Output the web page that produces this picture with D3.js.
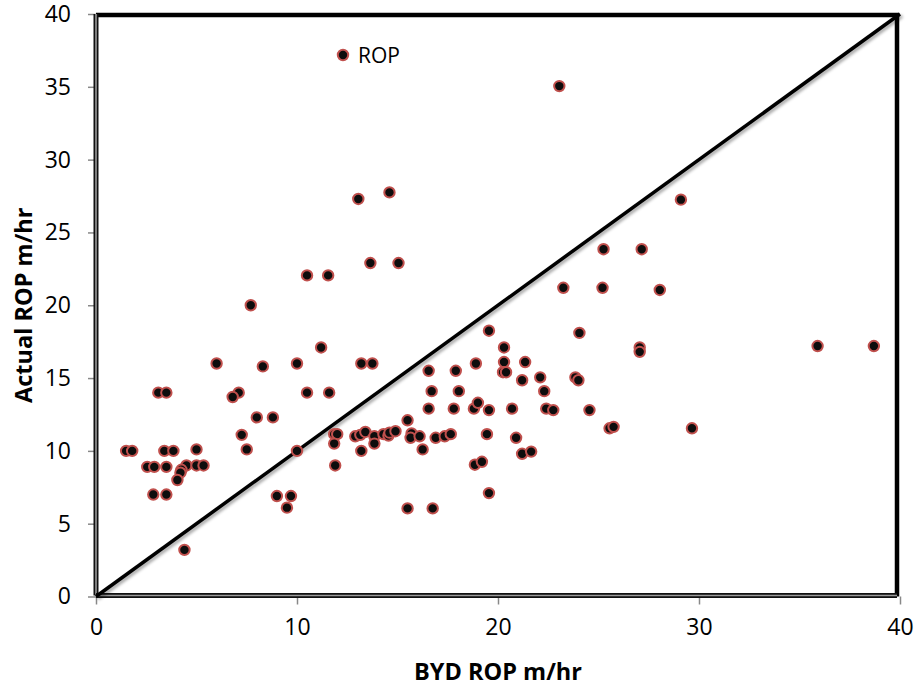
<!DOCTYPE html>
<html>
<head>
<meta charset="utf-8">
<script src="https://cdn.jsdelivr.net/npm/d3@7"></script>
<style>
  html, body { margin: 0; padding: 0; background: #fff; }
  svg { display: block; }
  text { font-family: "Open Sans", "Noto Sans", sans-serif; fill: #000; }
</style>
</head>
<body>
<svg id="chart" width="918" height="687"></svg>
<script>
// ---- data ----
const seriesName = "ROP";
const xTitle = "BYD ROP m/hr";
const yTitle = "Actual ROP m/hr";
const xTicks = [0, 10, 20, 30, 40];
const yTicks = [0, 5, 10, 15, 20, 25, 30, 35, 40];
const refLine = [0, 40];

const bydROP = [
  7.7, 6.0, 8.3, 10.0, 3.1, 3.5, 7.1, 6.8, 10.5, 8.0,
  8.8, 7.25, 7.5, 10.0, 1.5, 1.8, 3.4, 3.85, 5.0, 2.55,
  2.9, 3.5, 4.5, 4.25, 4.2, 4.05, 5.0, 5.35, 2.85, 3.5,
  4.4, 9.0, 9.7, 9.5,
  19.55, 11.2, 13.2, 13.75, 16.55, 17.9, 18.9, 11.6, 16.7, 18.05,
  16.55, 17.8, 18.8, 19.0, 19.55, 15.5, 11.85, 12.0, 11.85, 11.9,
  12.9, 13.15, 13.4, 13.85, 13.85, 13.2, 14.3, 14.55, 14.6, 14.9,
  15.7, 15.65, 16.1, 16.25, 16.9, 17.35, 17.65, 19.45, 18.85, 19.2,
  19.55, 15.5, 16.75,
  24.05, 27.05, 27.05, 20.3, 20.3, 21.35, 20.25, 20.4, 21.2, 22.1,
  23.85, 24.0, 22.3, 20.7, 22.4, 22.75, 24.55, 25.55, 25.75, 29.65,
  20.9, 21.2, 21.65,
  10.5, 11.55, 13.05, 14.6, 13.65, 15.05, 23.05, 29.1, 25.25, 27.15,
  23.25, 25.2, 28.05, 35.9, 38.7
];
const actualROP = [
  20.0, 16.0, 15.8, 16.0, 14.0, 14.0, 14.0, 13.7, 14.0, 12.3,
  12.3, 11.1, 10.1, 10.0, 10.0, 10.0, 10.0, 10.0, 10.1, 8.9,
  8.9, 8.9, 9.0, 8.7, 8.5, 8.0, 9.0, 9.0, 7.0, 7.0,
  3.2, 6.9, 6.9, 6.1,
  18.25, 17.1, 16.0, 16.0, 15.5, 15.5, 16.0, 14.0, 14.1, 14.1,
  12.9, 12.9, 12.9, 13.3, 12.8, 12.1, 11.15, 11.15, 10.5, 9.0,
  11.0, 11.1, 11.3, 11.0, 10.5, 10.0, 11.15, 11.05, 11.25, 11.35,
  11.2, 10.9, 11.0, 10.1, 10.9, 11.0, 11.15, 11.15, 9.05, 9.25,
  7.1, 6.05, 6.05,
  18.1, 17.1, 16.8, 17.1, 16.1, 16.1, 15.4, 15.4, 14.85, 15.05,
  15.05, 14.85, 14.1, 12.9, 12.9, 12.8, 12.8, 11.55, 11.65, 11.55,
  10.9, 9.8, 9.95,
  22.05, 22.05, 27.3, 27.75, 22.9, 22.9, 35.05, 27.25, 23.85, 23.85,
  21.2, 21.2, 21.05, 17.2, 17.2
];

// ---- layout ----
const plot = { left: 96, top: 14, right: 900, bottom: 596.5 };
const svg = d3.select("#chart");

const x = d3.scaleLinear().domain([0, 40]).range([plot.left, plot.right]);
const y = d3.scaleLinear().domain([0, 40]).range([plot.bottom, plot.top]);

const defs = svg.append("defs");
const f = defs.append("filter").attr("id", "shadow")
  .attr("x", "-10%").attr("y", "-10%").attr("width", "120%").attr("height", "120%");
f.append("feDropShadow").attr("dx", 2).attr("dy", 2).attr("stdDeviation", 1.5)
  .attr("flood-color", "#000").attr("flood-opacity", 0.35);

const tickFont = "'Liberation Sans', Arial, sans-serif";

// y axis
const yAxis = svg.append("g")
  .attr("transform", `translate(${plot.left},0)`)
  .call(d3.axisLeft(y).tickValues(yTicks).tickSize(8).tickPadding(17).tickFormat(d3.format("d")));
yAxis.select(".domain").remove();
yAxis.selectAll(".tick line").attr("stroke", "#888").attr("stroke-width", 1.5);
yAxis.selectAll(".tick text").attr("font-size", 23).attr("font-family", tickFont);

// x axis
const xAxis = svg.append("g")
  .attr("transform", `translate(0,${plot.bottom})`)
  .call(d3.axisBottom(x).tickValues(xTicks).tickSize(8).tickPadding(14).tickFormat(d3.format("d")));
xAxis.select(".domain").remove();
xAxis.selectAll(".tick line").attr("stroke", "#888").attr("stroke-width", 1.5);
xAxis.selectAll(".tick text").attr("font-size", 23).attr("font-family", tickFont);

// frame: top and right thick black
svg.append("line")
  .attr("x1", plot.left).attr("x2", plot.right - 1)
  .attr("y1", plot.top + 1).attr("y2", plot.top + 1)
  .attr("stroke", "#000").attr("stroke-width", 4.5);
svg.append("line")
  .attr("x1", plot.right - 3).attr("x2", plot.right - 3)
  .attr("y1", plot.top - 1).attr("y2", plot.bottom)
  .attr("stroke", "#000").attr("stroke-width", 4.5);

// left and bottom axis lines (double line look)
function dbl(x1, y1, x2, y2) {
  svg.append("line").attr("x1", x1).attr("y1", y1).attr("x2", x2).attr("y2", y2)
    .attr("stroke", "#111").attr("stroke-width", 5);
  svg.append("line").attr("x1", x1).attr("y1", y1).attr("x2", x2).attr("y2", y2)
    .attr("stroke", "#9a9a9a").attr("stroke-width", 1.6);
}
dbl(plot.left, plot.top, plot.left, plot.bottom - 1);
dbl(plot.left, plot.bottom - 1, plot.right - 3, plot.bottom - 1);

// reference 1:1 line
svg.append("line")
  .attr("x1", x(refLine[0])).attr("y1", y(refLine[0]))
  .attr("x2", x(refLine[1])).attr("y2", y(refLine[1]))
  .attr("stroke", "#000").attr("stroke-width", 3.5)
  .attr("filter", "url(#shadow)");

// points
const pts = bydROP.map((v, i) => ({ x: v, y: actualROP[i] }));
svg.append("g").selectAll("circle").data(pts).join("circle")
  .attr("cx", d => x(d.x)).attr("cy", d => y(d.y))
  .attr("r", 5.2)
  .attr("fill", "#0d0d0d")
  .attr("stroke", "#c0504d").attr("stroke-width", 2);

// legend
const lg = svg.append("g").attr("transform", "translate(343,55)");
lg.append("circle").attr("r", 5.2).attr("fill", "#0d0d0d")
  .attr("stroke", "#c0504d").attr("stroke-width", 2);
lg.append("text").attr("x", 15).attr("y", 8).attr("font-size", 21).text(seriesName);

// axis titles
svg.append("text")
  .attr("x", (plot.left + plot.right) / 2).attr("y", 680)
  .attr("text-anchor", "middle").attr("font-size", 23.5).attr("font-weight", "bold")
  .text(xTitle);
svg.append("text")
  .attr("transform", `translate(32,${(plot.top + plot.bottom) / 2}) rotate(-90)`)
  .attr("text-anchor", "middle").attr("font-size", 23.5).attr("font-weight", "bold")
  .text(yTitle);
</script>
</body>
</html>
